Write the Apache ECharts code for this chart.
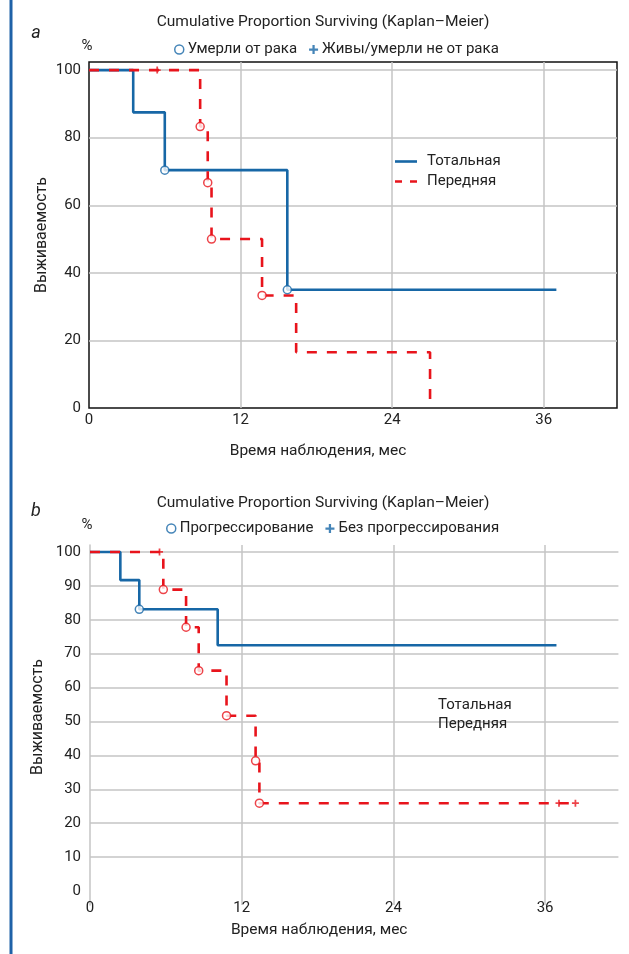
<!DOCTYPE html>
<html><head><meta charset="utf-8">
<script src="https://cdn.jsdelivr.net/npm/echarts@6/dist/echarts.min.js"></script>
<style>html,body{margin:0;padding:0;background:#fff}#c{width:629px;height:954px}</style>
</head><body><div id="c"></div>
<script>
// ---- data ----
const xTicks = [0, 12, 24, 36];
const yTicksA = [0, 20, 40, 60, 80, 100];
const yTicksB = [0, 10, 20, 30, 40, 50, 60, 70, 80, 90, 100];
const yGridB = [10, 20, 30, 40, 50, 60, 70, 80, 90, 100];

// Panel a: [months, survival %]
const totalA = [[0,100],[3.5,87.5],[6.0,70.4],[15.7,35.0],[37.0,35.0]];
const frontA = [[0,100],[8.8,83.3],[9.4,66.7],[9.7,50.0],[13.7,33.3],[16.4,16.5],[27.0,0]];
const totalEventsA = [[6.0,70.4],[15.7,35.0]];
const frontEventsA = [[8.8,83.3],[9.4,66.7],[9.7,50.0],[13.7,33.3]];
const frontCensoredA = [[5.4,100]];

// Panel b
const totalB = [[0,100],[2.4,91.7],[3.9,83.1],[10.1,72.5],[36.9,72.5]];
const frontB = [[0,100],[5.8,88.9],[7.6,77.8],[8.6,65.0],[10.8,51.7],[13.1,38.4],[13.4,25.9],[38.4,25.9]];
const totalEventsB = [[3.9,83.1]];
const frontEventsB = [[5.8,88.9],[7.6,77.8],[8.6,65.0],[10.8,51.7],[13.1,38.4],[13.4,25.9]];
const frontCensoredB = [[5.5,100],[37.1,25.9],[38.4,25.9]];

const titleText = 'Cumulative Proportion Surviving (Kaplan\u2013Meier)';
const xName = 'Время наблюдения, мес';
const yName = 'Выживаемость';

// ---- style ----
const F = "Roboto, 'Noto Sans', sans-serif";
const TXT = '#222';
const BLUE = '#1767a6';
const RED = '#e8141c';
const GRIDC = '#c4c4c4';
const PLUS = 'path://M3,0H5V3H8V5H5V8H3V5H0V3H3Z';
const ts = (s) => ({fontFamily: F, fontSize: s, color: TXT});

function lineSeries(name, data, idx, color, dashed) {
  return {
    name, type: 'line', step: 'end', data, xAxisIndex: idx, yAxisIndex: idx,
    symbol: 'none', showSymbol: false, silent: true,
    lineStyle: {color, width: 2.6, type: dashed ? [10, 10] : 'solid'},
    itemStyle: {color}, z: dashed ? 3 : 2
  };
}
function eventSeries(name, blueData, redData, idx) {
  return {
    name, type: 'scatter', xAxisIndex: idx, yAxisIndex: idx, symbol: 'circle', symbolSize: 8,
    itemStyle: {color: '#fff', borderColor: BLUE, borderWidth: 1.5}, z: 5,
    data: blueData.map(v => ({value: v}))
      .concat(redData.map(v => ({value: v, itemStyle: {color: '#fff', borderColor: RED, borderWidth: 1.5}})))
  };
}
function censorSeries(name, data, idx) {
  return {
    name, type: 'scatter', xAxisIndex: idx, yAxisIndex: idx, symbol: PLUS, symbolSize: 7,
    itemStyle: {color: RED}, z: 5, data
  };
}
function headLegend(top, left, n1, n2) {
  return {
    top, left, itemWidth: 9, itemHeight: 9, itemGap: 12, selectedMode: false,
    textStyle: Object.assign(ts(15), {padding: [0, 0, 0, -1]}),
    data: [
      {name: n1, icon: 'circle', itemStyle: {color: '#fff', borderColor: BLUE, borderWidth: 1.5}},
      {name: n2, icon: PLUS, itemStyle: {color: BLUE, borderWidth: 0}}
    ]
  };
}
function xAxisCfg(idx, margin, nameGap) {
  return {
    gridIndex: idx, type: 'value', min: 0, max: 41.8, interval: 12,
    axisLine: {show: false}, axisTick: {show: false},
    axisLabel: Object.assign(ts(15), {margin, customValues: xTicks, formatter: v => xTicks.includes(v) ? String(v) : ''}),
    splitLine: {show: true, showMinLine: false, showMaxLine: false, lineStyle: {color: GRIDC, width: 1.5}},
    name: xName, nameLocation: 'middle', nameGap, nameMoveOverlap: false,
    nameTextStyle: Object.assign(ts(15.5), {padding: [0, 70, 0, 0]})
  };
}

const chart = echarts.init(document.getElementById('c'), null, {renderer: 'canvas'});
chart.setOption({
  animation: false,
  backgroundColor: '#fff',
  graphic: [
    {type: 'rect', shape: {x: 9.5, y: 0, width: 3, height: 954}, style: {fill: '#1f62a8'}, silent: true},
    {type: 'text', x: 36, y: 33, style: {text: 'a', fontFamily: F, fontSize: 18, fontStyle: 'italic', fill: TXT, align: 'center', verticalAlign: 'middle'}},
    {type: 'text', x: 36, y: 511, style: {text: 'b', fontFamily: F, fontSize: 18, fontStyle: 'italic', fill: TXT, align: 'center', verticalAlign: 'middle'}},
    {type: 'text', x: 87, y: 46, style: {text: '%', fontFamily: F, fontSize: 15, fill: TXT, align: 'center', verticalAlign: 'middle'}},
    {type: 'text', x: 87, y: 525, style: {text: '%', fontFamily: F, fontSize: 15, fill: TXT, align: 'center', verticalAlign: 'middle'}},
    {type: 'text', x: 323, y: 22, style: {text: titleText, fontFamily: F, fontSize: 15.5, fill: TXT, align: 'center', verticalAlign: 'middle'}},
    {type: 'text', x: 323, y: 503, style: {text: titleText, fontFamily: F, fontSize: 15.5, fill: TXT, align: 'center', verticalAlign: 'middle'}}
  ],
  legend: [
    headLegend(37, 169, 'Умерли от рака', 'Живы/умерли не от рака'),
    headLegend(516, 161, 'Прогрессирование', 'Без прогрессирования'),
    {
      orient: 'vertical', left: 390, top: 149, itemWidth: 22, itemHeight: 3, itemGap: 5,
      selectedMode: false, textStyle: Object.assign(ts(15), {padding: [0, 0, 0, 5]}),
      data: [
        {name: 'Тотальная', icon: 'path://M0,0H22V2.6H0Z', itemStyle: {color: BLUE}},
        {name: 'Передняя', icon: 'path://M0,0H7V2.6H0Z M15,0H22V2.6H15Z', itemStyle: {color: RED}}
      ]
    },
    {
      orient: 'vertical', left: 427, top: 693, itemWidth: 1, itemHeight: 14, itemGap: 4,
      selectedMode: false, textStyle: ts(15),
      data: [
        {name: 'Тотальная', icon: 'rect', itemStyle: {opacity: 0}},
        {name: 'Передняя', icon: 'rect', itemStyle: {opacity: 0}}
      ]
    }
  ],
  grid: [
    {left: 89, top: 62, right: 12, height: 346, show: true, borderColor: '#111', borderWidth: 1.5, backgroundColor: 'transparent'},
    {left: 90, top: 545, right: 10.6, height: 360}
  ],
  xAxis: [
    xAxisCfg(0, 5, 35),
    xAxisCfg(1, -4, 17)
  ],
  yAxis: [
    {
      gridIndex: 0, type: 'value', min: 0, max: 102.4, interval: 20,
      axisLine: {show: false}, axisTick: {show: false},
      axisLabel: Object.assign(ts(15), {margin: 8, customValues: yTicksA, formatter: v => yTicksA.includes(v) ? String(v) : ''}),
      splitLine: {show: true, showMinLine: false, showMaxLine: false, lineStyle: {color: GRIDC, width: 1.5}},
      name: yName, nameLocation: 'middle', nameGap: 39, nameMoveOverlap: false, nameTextStyle: ts(16)
    },
    {
      gridIndex: 1, type: 'value', min: -4.13, max: 102.06,
      axisLine: {show: true, lineStyle: {color: GRIDC, width: 1.5}},
      axisTick: {show: false, customValues: yGridB},
      axisLabel: Object.assign(ts(15), {margin: 9, customValues: yTicksB, formatter: v => yTicksB.includes(v) ? String(v) : ''}),
      splitLine: {show: true, showMinLine: true, showMaxLine: true, lineStyle: {color: GRIDC, width: 1.5}},
      name: yName, nameLocation: 'middle', nameGap: 44, nameMoveOverlap: false,
      nameTextStyle: Object.assign(ts(16), {padding: [0, 0, 0, 16]})
    }
  ],
  series: [
    lineSeries('Тотальная', totalA, 0, BLUE, false),
    lineSeries('Передняя', frontA, 0, RED, true),
    eventSeries('Умерли от рака', totalEventsA, frontEventsA, 0),
    censorSeries('Живы/умерли не от рака', frontCensoredA, 0),
    lineSeries('Тотальная', totalB, 1, BLUE, false),
    lineSeries('Передняя', frontB, 1, RED, true),
    eventSeries('Прогрессирование', totalEventsB, frontEventsB, 1),
    censorSeries('Без прогрессирования', frontCensoredB, 1)
  ]
});
</script></body></html>
